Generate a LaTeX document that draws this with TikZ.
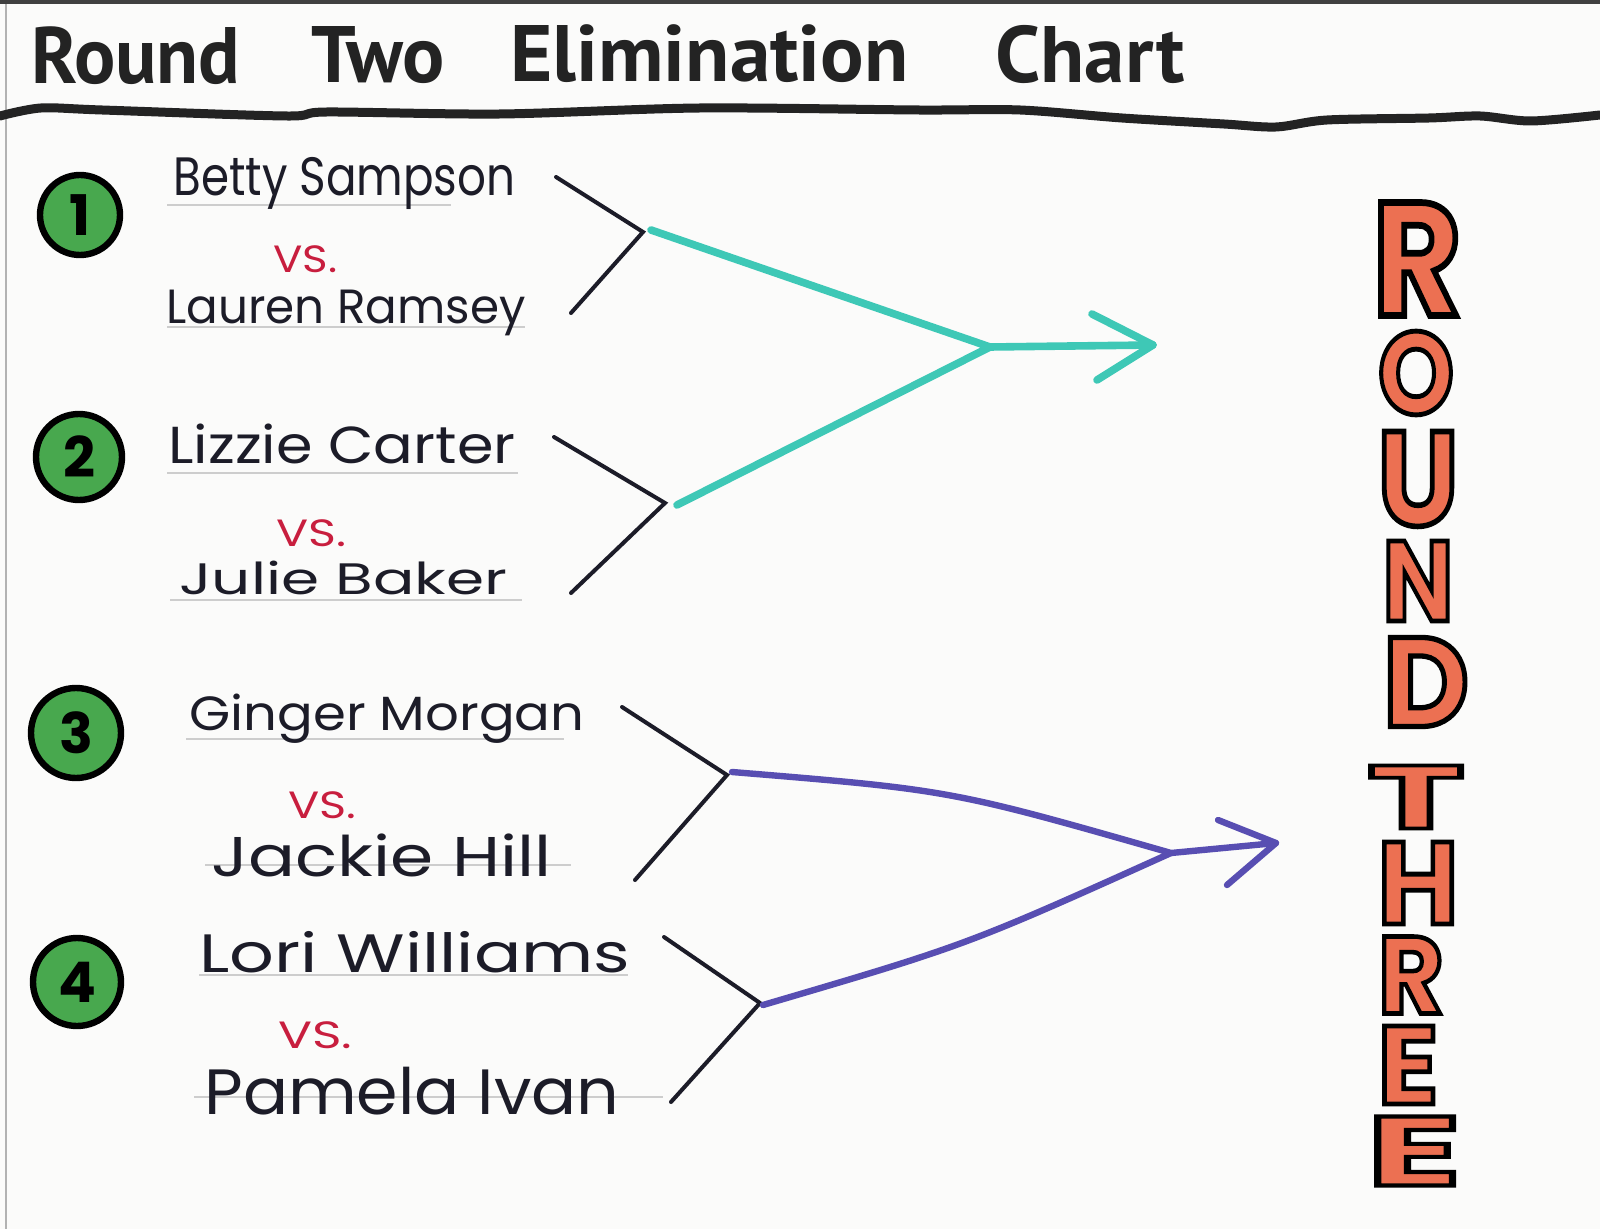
\documentclass[tikz,border=0pt]{standalone}
\usepackage{fontspec}
\usepackage{graphicx}
\setmainfont{Poppins}
\newfontfamily\handfont{Poppins}
\newfontfamily\titlefont{PT Sans}
\newfontfamily\blockfont{Poppins}
\definecolor{paper}{RGB}{251,251,250}
\definecolor{inkblack}{RGB}{28,28,40}
\definecolor{vsred}{RGB}{200,30,62}
\definecolor{tealc}{RGB}{62,200,182}
\definecolor{purplec}{RGB}{88,78,178}
\definecolor{greenc}{RGB}{72,168,78}
\definecolor{orangec}{RGB}{236,112,82}
\definecolor{rulegray}{RGB}{205,205,205}
\definecolor{titleink}{RGB}{35,35,35}
\newcommand\fitw[2]{\resizebox{#1}{\height}{#2}}
\newcommand\blockletter[3]{\resizebox{#1}{#2}{\special{pdf:literal direct q 0 0 0 RG 2.5 w 2 Tr}#3\special{pdf:literal direct Q}}}
\begin{document}
\begin{tikzpicture}[x=0.5pt,y=-0.5pt,
  namestyle/.style={anchor=base west, inner sep=0pt, text=inkblack},
  vsstyle/.style={anchor=base west, inner sep=0pt, text=vsred, font=\handfont\fontsize{19}{19}\selectfont},
  titleword/.style={anchor=base west, inner sep=0pt, text=titleink, font=\titlefont\bfseries\fontsize{40}{40}\selectfont},
  numcirc/.style={circle, draw=black, line width=3.2pt, fill=greenc, inner sep=0pt, font=\handfont\bfseries\fontsize{28}{28}\selectfont, text=black},
  bracketline/.style={draw=inkblack, line width=2pt, line cap=round, line join=miter},
  underline/.style={draw=rulegray, line width=0.8pt},
  tealline/.style={draw=tealc, line width=3.8pt, line cap=round, line join=round},
  purpline/.style={draw=purplec, line width=3.2pt, line cap=round, line join=round},
  blockstyle/.style={inner sep=0pt, text=orangec, font=\blockfont\bfseries\fontsize{60}{60}\selectfont}
]
\fill[paper] (0,0) rectangle (1600,1229);
\useasboundingbox (0,0) rectangle (1600,1229);
\fill[black!75] (0,0) rectangle (1600,4);
\draw[black!30, line width=0.8pt] (6,4) -- (6,1229);

% title
\node[titleword] (tw1) at (31,84) {\fitw{104.5pt}{Round}};
\node[titleword] (tw2) at (311,83) {\fitw{66.5pt}{Two}};
\node[titleword] (tw3) at (510,82) {\fitw{199pt}{Elimination}};
\node[titleword] (tw4) at (995,83) {\fitw{94.5pt}{Chart}};
\draw[titleink, line width=4.5pt, line cap=round] plot[smooth] coordinates {(0,116) (41,108) (102,110) (286,116) (327,112) (500,114) (700,108) (918,110) (1020,110) (1122,118) (1224,124) (1276,127) (1327,120) (1429,118) (1480,116) (1531,121) (1600,115)};

% numbered circles
\node[numcirc, minimum size=40pt] (c1) at (80,215) {1};
\node[numcirc, minimum size=43pt] (c2) at (79,457) {2};
\node[numcirc, minimum size=45pt] (c3) at (76,733) {3};
\node[numcirc, minimum size=44pt] (c4) at (77,982) {4};

% underlines
\draw[underline] (167,205) -- (451,205);
\draw[underline] (167,327) -- (525,327);
\draw[underline] (167,473) -- (518,473);
\draw[underline] (170,600) -- (522,600);
\draw[underline] (186,739) -- (564,739);
\draw[underline] (205,865) -- (571,865);
\draw[underline] (199,975) -- (628,975);
\draw[underline] (194,1097) -- (663,1097);

% names
\node[namestyle, font=\handfont\fontsize{27}{27}\selectfont] (n1a) at (173,196) {\fitw{171pt}{Betty Sampson}};
\node[vsstyle] (v1) at (273,273) {\fitw{32pt}{VS.}};
\node[namestyle, font=\handfont\fontsize{24}{24}\selectfont] (n1b) at (166,324) {\fitw{179.5pt}{Lauren Ramsey}};

\node[namestyle, font=\handfont\fontsize{26}{26}\selectfont] (n2a) at (168,464) {\fitw{173.5pt}{Lizzie Carter}};
\node[vsstyle] (v2) at (276,546) {\fitw{35pt}{VS.}};
\node[namestyle, font=\handfont\fontsize{22}{22}\selectfont] (n2b) at (179,595) {\fitw{164pt}{Julie Baker}};

\node[namestyle, font=\handfont\fontsize{24}{24}\selectfont] (n3a) at (189,730) {\fitw{197.5pt}{Ginger Morgan}};
\node[vsstyle] (v3) at (288,818) {\fitw{34pt}{VS.}};
\node[namestyle, font=\handfont\fontsize{28}{28}\selectfont] (n3b) at (211,876) {\fitw{170pt}{Jackie Hill}};

\node[namestyle, font=\handfont\fontsize{27}{27}\selectfont] (n4a) at (199,972) {\fitw{215.5pt}{Lori Williams}};
\node[vsstyle] (v4) at (278,1048) {\fitw{37pt}{VS.}};
\node[namestyle, font=\handfont\fontsize{32}{32}\selectfont] (n4b) at (204,1114) {\fitw{207.5pt}{Pamela Ivan}};

% brackets
\coordinate (b1) at (643,232);
\coordinate (b2) at (665,503);
\coordinate (b3) at (727,775);
\coordinate (b4) at (760,1003);
\draw[bracketline] (556,177) -- (b1) -- (571,313);
\draw[bracketline] (554,437) -- (b2) -- (571,593);
\draw[bracketline] (622,707) -- (b3) -- (635,880);
\draw[bracketline] (664,937) -- (b4) -- (671,1102);

% teal connector
\coordinate (t1) at (651,230);
\coordinate (t2) at (677,505);
\coordinate (tj) at (990,347);
\coordinate (ttip) at (1153,345);
\draw[tealline] (t1) -- (tj) -- (t2);
\draw[tealline] (tj) -- (ttip);
\draw[tealline] (1092,314) -- (ttip) -- (1097,380);

% purple connector
\coordinate (p3) at (732,772);
\coordinate (p4) at (763,1005);
\coordinate (pj) at (1171,853);
\coordinate (ptip) at (1276,843);
\draw[purpline] (p3) .. controls (951,790) .. (pj) -- (ptip);
\draw[purpline] (p4) .. controls (967,945) .. (pj);
\draw[purpline] (1218,820) -- (ptip) -- (1227,885);

% ROUND THREE
\node[blockstyle] (r1) at (1417,259) {\blockletter{44.5pt}{56.5pt}{R}};
\node[blockstyle] (r2) at (1416,373) {\blockletter{38pt}{41.5pt}{O}};
\node[blockstyle] (r3) at (1418,479) {\blockletter{40.5pt}{47pt}{U}};
\node[blockstyle] (r4) at (1418,581) {\blockletter{35.5pt}{40pt}{N}};
\node[blockstyle] (r5) at (1426,682) {\blockletter{43pt}{44.5pt}{D}};
\node[blockstyle] (r6) at (1416,797) {\blockletter{48.5pt}{31.5pt}{T}};
\node[blockstyle] (r7) at (1418,883) {\blockletter{40.5pt}{41pt}{H}};
\node[blockstyle] (r8) at (1411,975) {\blockletter{33pt}{38.5pt}{R}};
\node[blockstyle] (r9) at (1408,1065) {\blockletter{30.5pt}{39pt}{E}};
\node[blockstyle] (r10) at (1414,1151) {\blockletter{47pt}{34.5pt}{E}};
\end{tikzpicture}
\end{document}
